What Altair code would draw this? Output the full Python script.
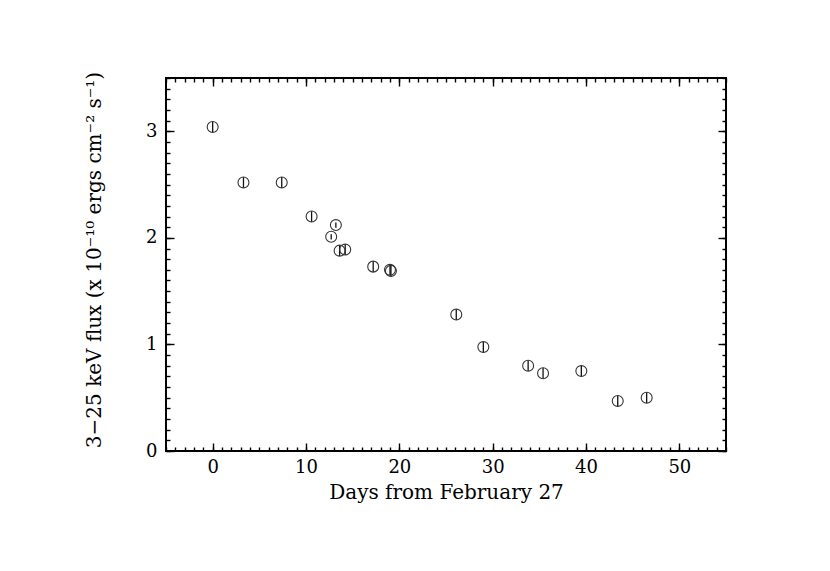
import altair as alt
import pandas as pd

days = [0.0, 3.3, 7.4, 10.6, 12.7, 13.2, 13.6, 14.2, 17.2, 19.0, 19.1, 26.1, 29.0, 33.8, 35.4, 39.5, 43.4, 46.5]
flux = [3.04, 2.52, 2.52, 2.20, 2.01, 2.12, 1.88, 1.89, 1.73, 1.70, 1.69, 1.28, 0.975, 0.80, 0.73, 0.75, 0.47, 0.50]
err = [0.05, 0.05, 0.05, 0.05, 0.025, 0.025, 0.05, 0.05, 0.05, 0.05, 0.05, 0.05, 0.05, 0.05, 0.05, 0.05, 0.05, 0.05]

x_major = [0, 10, 20, 30, 40, 50]
x_minor = list(range(-5, 56))
y_major = [0, 1, 2, 3]
y_minor = [i / 10 for i in range(0, 36)]

df = pd.DataFrame({"day": days, "flux": flux, "err": err})
df["lo"] = df["flux"] - df["err"]
df["hi"] = df["flux"] + df["err"]

FONT = "DejaVu Serif"
W, H = 560, 373
xs = alt.Scale(domain=[-5, 55], nice=False, zero=False)
ys = alt.Scale(domain=[0, 3.5], nice=False, zero=False)


def tick_axis(orient, values, size):
    return alt.Axis(orient=orient, values=values, tickSize=size, offset=-size,
                    labels=False, domain=False, grid=False, title=None,
                    tickColor="black", tickWidth=1.4)


base = alt.Chart(df)

lab = base.mark_point(opacity=0).encode(
    x=alt.X("day:Q", scale=xs, axis=alt.Axis(
        orient="bottom", values=x_major, ticks=False, domain=False, grid=False,
        labelPadding=7, labelFont=FONT, labelFontSize=18, labelColor="black",
        title="Days from February 27", titleFont=FONT, titleFontSize=20,
        titleFontWeight="normal", titleColor="black", titleX=W / 2, titleY=47,
        titleBaseline="alphabetic")),
    y=alt.Y("flux:Q", scale=ys, axis=alt.Axis(
        orient="left", values=y_major, ticks=False, domain=False, grid=False,
        labelPadding=9, labelFont=FONT, labelFontSize=18, labelColor="black",
        title="3−25 keV flux (x 10⁻¹⁰ ergs cm⁻²  s⁻¹)", titleFont=FONT,
        titleFontSize=20, titleFontWeight="normal", titleColor="black",
        titleX=-66, titleY=H / 2 - 5, titleAngle=270, titleBaseline="alphabetic",
        titleAlign="center")),
)

layers = [lab]
for ox, oy, vx, vy, s in [("bottom", "left", x_major, y_major, 8),
                          ("bottom", "left", x_minor, y_minor, 4),
                          ("top", "right", x_major, y_major, 8),
                          ("top", "right", x_minor, y_minor, 4)]:
    layers.append(base.mark_point(opacity=0).encode(
        x=alt.X("day:Q", scale=xs, axis=tick_axis(ox, vx, s)),
        y=alt.Y("flux:Q", scale=ys, axis=tick_axis(oy, vy, s)),
    ))

bars = base.mark_rule(color="#111", strokeWidth=1.3).encode(
    x=alt.X("day:Q", scale=xs, axis=None),
    y=alt.Y("lo:Q", scale=ys, axis=None),
    y2="hi:Q",
)
pts = base.mark_point(shape="circle", size=120, filled=False, stroke="#333",
                      strokeWidth=1.1, opacity=1).encode(
    x=alt.X("day:Q", scale=xs, axis=None),
    y=alt.Y("flux:Q", scale=ys, axis=None),
)
layers += [bars, pts]

chart = alt.layer(*layers).resolve_axis(x="independent", y="independent").properties(
    width=W, height=H, autosize="none",
    padding={"left": 158, "top": 70, "right": 90, "bottom": 100},
    background="white",
).configure_view(stroke="black", strokeWidth=2)

chart.save("out.html", embed_options={"renderer": "svg", "actions": False})
